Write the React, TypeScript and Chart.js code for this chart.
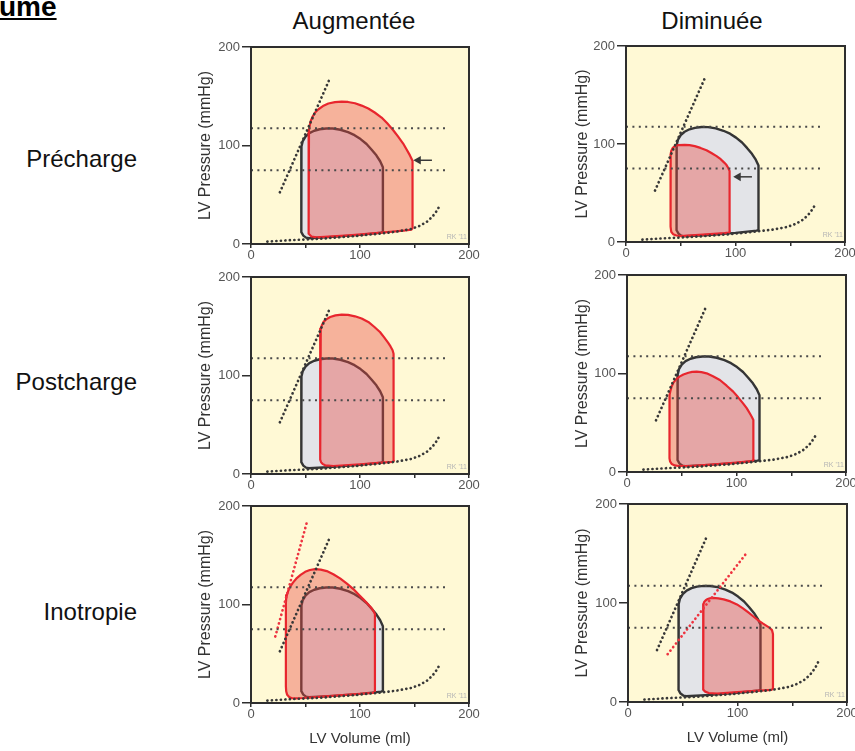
import React, { useEffect, useRef } from 'react';
import { Chart, registerables } from 'chart.js';

Chart.register(...registerables);

const FONT = "'Liberation Sans', Arial, Helvetica, sans-serif";
Chart.defaults.font.family = FONT;

// ---------- text ----------
const COLUMN_LABELS = ['Augmentée', 'Diminuée'];
const ROW_LABELS = ['Précharge', 'Postcharge', 'Inotropie'];
const CORNER_TITLE = 'ume';
const X_TITLE = 'LV Volume (ml)';
const Y_TITLE = 'LV Pressure (mmHg)';
const SIGNATURE = "RK '11";

// ---------- tick labels ----------
const VOLUME_TICK_LABELS = [0, 100, 200];
const PRESSURE_TICK_LABELS = [0, 100, 200];

// ---------- common curves (LV volume ml, LV pressure mmHg) ----------
const CONTROL_V = [53, 75, 100, 119.5, 121, 121, 118.5, 115, 110.5, 106, 100.5, 95, 89, 82, 75, 69, 63, 58, 53.5, 50, 47.5, 46.3, 46, 46, 46.5, 48, 50.5, 53];
const CONTROL_P = [5.8, 7.2, 9.3, 11.6, 12.5, 78, 84, 90, 96, 101.5, 106.5, 110.5, 113.5, 116, 117.2, 117.3, 116.5, 115, 112.5, 109, 104.5, 99, 92, 18, 12, 8.5, 6.5, 5.8];

const EDPVR_V = [15, 35, 65, 95, 120, 135, 147, 155, 162, 167, 171, 173.5];
const EDPVR_P = [2.5, 3.8, 5.5, 8, 10.8, 12.8, 15.3, 18.5, 23, 28.5, 34.5, 40];

const ESPVR_V = [26.5, 72.3];
const ESPVR_P = [52.5, 168];

const REF_LINE_V = [0, 180];
const REF_PRESSURES = [117.5, 75];

// ---------- altered loops ----------
const PRELOAD_UP_V = [60, 90, 120, 140, 147, 148.2, 148.2, 145.7, 142.5, 139.6, 135, 130.5, 125, 119.8, 113.5, 107.6, 101.5, 95.4, 89, 83.2, 77, 71, 66, 61.9, 58.8, 56.7, 55, 54, 53.2, 52.7, 52.7, 53.2, 55.5, 60];
const PRELOAD_UP_P = [6.8, 8.8, 11.5, 13.5, 14.5, 16, 84.5, 90.2, 96.5, 102, 109, 115.5, 122.5, 128.4, 133.5, 137.5, 140.5, 142.9, 144.2, 144.6, 144, 142.6, 140, 136.8, 133.5, 129.7, 125.5, 121, 116, 110, 16, 10.5, 7.6, 6.8];

const PRELOAD_DOWN_V = [50, 70, 90, 94, 94.9, 94.9, 94.3, 93.4, 91.8, 89.7, 86.5, 82.7, 78, 73.5, 68, 62.8, 58, 53.6, 48.1, 45.5, 43.8, 42.3, 41.3, 40.8, 40.7, 40.7, 41.3, 43, 46, 50];
const PRELOAD_DOWN_P = [6, 7.5, 9, 9.6, 11, 69.3, 72.5, 75.5, 78.5, 81, 84.5, 87.6, 90.8, 93.7, 96, 97.8, 98.8, 99.2, 98.8, 98.2, 97.1, 95.3, 93, 89.5, 86.9, 15.6, 10.5, 8, 6.6, 6];

const AFTERLOAD_UP_V = [75.6, 100, 120, 130, 131.1, 131.1, 130.5, 129.9, 128, 125.9, 122, 118.3, 113, 107.6, 101.5, 95.4, 89, 83.2, 77.5, 72.6, 69, 66.5, 65, 64, 63.5, 63.4, 63.4, 63.6, 64.3, 66, 68, 75.6];
const AFTERLOAD_UP_P = [8.1, 9.8, 11.5, 12.3, 13.5, 117.2, 122, 125.7, 129.5, 133.1, 139, 144.2, 149.5, 154.4, 157.8, 160.1, 161.5, 161.8, 161, 159.4, 157, 154.4, 151, 147.6, 143, 139.2, 20.9, 14.5, 12, 10, 8.8, 8.1];

const AFTERLOAD_DOWN_V = [57.6, 80, 100, 114, 115.7, 115.7, 115.1, 113.8, 112.1, 109.3, 106, 101.5, 97, 91, 84.8, 78.5, 72.7, 68, 63.6, 59.5, 56.1, 51.5, 47.9, 44.8, 42.4, 40.7, 39.7, 38.9, 38.8, 38.8, 39.3, 40.9, 43.5, 47, 57.6];
const AFTERLOAD_DOWN_P = [6.1, 7.8, 9.6, 11, 12.5, 49.4, 52.8, 56.3, 59.6, 64.8, 69.7, 75.8, 81.6, 87.6, 93.4, 97.2, 100.2, 101.4, 101.9, 101.6, 100.8, 99, 96.8, 94, 90.7, 86.5, 82.6, 78.5, 76.5, 13.9, 10.8, 8.1, 6.7, 6.1, 6.1];

const INOTROPY_UP_V = [48.2, 75, 100, 112, 113.7, 113.7, 112.4, 110.7, 107, 103.1, 98.5, 93.9, 88, 81.7, 75.5, 69.5, 64, 58.8, 54, 49.7, 45.5, 41.5, 38.5, 36, 34.2, 32.9, 32.2, 32, 32, 32.3, 33.2, 35, 37.5, 41, 48.2];
const INOTROPY_UP_P = [5.1, 7.3, 9.4, 10.3, 11.8, 90.4, 93.2, 96.1, 100.8, 105.2, 110.5, 115.7, 121.2, 126.5, 130.7, 133.9, 135.4, 135.9, 135, 133.2, 130, 126.2, 122.2, 118.1, 114, 109.6, 105, 101.2, 16.9, 11.8, 8.3, 6, 4.8, 4.6, 5.1];

const INOTROPY_DOWN_V = [81.3, 100, 120, 131, 132.4, 132.4, 131.5, 129.5, 126.9, 123, 119.3, 114.8, 110.2, 105, 99.5, 93.5, 87.4, 82.5, 77.6, 74.8, 72.8, 71, 69.7, 68.9, 68.5, 68.5, 69, 70.5, 73.7, 81.3];
const INOTROPY_DOWN_P = [8.4, 10, 11.5, 12.3, 13.5, 68.6, 72.6, 74.8, 76.7, 79.4, 82.1, 86.1, 90.2, 94.6, 98.6, 101.6, 103.7, 104.7, 105.1, 104.8, 104, 102.8, 101.3, 98.8, 95.6, 15.2, 12.5, 10.5, 9.1, 8.4];

// altered ESPVR (contractility)
const INOTROPY_UP_ESPVR_V = [22.3, 51.2];
const INOTROPY_UP_ESPVR_P = [67.5, 183.2];
const INOTROPY_DOWN_ESPVR_V = [36.2, 108.7];
const INOTROPY_DOWN_ESPVR_P = [48.3, 151];

// arrows (tail, head)
const PRELOAD_UP_ARROW_V = [166, 153.5];
const PRELOAD_UP_ARROW_P = [85, 85];
const PRELOAD_DOWN_ARROW_V = [115, 102.5];
const PRELOAD_DOWN_ARROW_P = [66.5, 66.5];

// ---------- styles ----------
const PLOT_BG = '#FFF9D5';
const FRAME_COLOR = '#2E2E2E';
const CONTROL_FILL = '#E3E4E8';
const CONTROL_LINE = '#353535';
const RED_LINE = '#E8262E';
const RED_FILL = 'rgba(232, 72, 68, 0.4)';
const DOT_DARK = '#383838';
const DOT_REF = '#4A4A4A';
const DOT_RED = '#EE3340';
const TICK_COLOR = '#555555';
const TITLE_COLOR = '#333333';

// ---------- layout ----------
const Y_AXIS_W = 66;
const PAD_TOP = 10;
const PAD_RIGHT = 16;
const PLOT_RECTS = [
  { l: 251, t: 47, r: 469, b: 244 },
  { l: 626, t: 46, r: 845, b: 242 },
  { l: 251, t: 277, r: 469, b: 474 },
  { l: 627, t: 275, r: 846, b: 472 },
  { l: 251, t: 506, r: 469, b: 703 },
  { l: 628, t: 504, r: 847, b: 702 },
];
const Y_TITLE_CENTER_X = [206, 583];
const Y_TITLE_SIZE = 16;

const PANELS = [
  { loopV: PRELOAD_UP_V, loopP: PRELOAD_UP_P, arrowV: PRELOAD_UP_ARROW_V, arrowP: PRELOAD_UP_ARROW_P },
  { loopV: PRELOAD_DOWN_V, loopP: PRELOAD_DOWN_P, arrowV: PRELOAD_DOWN_ARROW_V, arrowP: PRELOAD_DOWN_ARROW_P },
  { loopV: AFTERLOAD_UP_V, loopP: AFTERLOAD_UP_P },
  { loopV: AFTERLOAD_DOWN_V, loopP: AFTERLOAD_DOWN_P },
  { loopV: INOTROPY_UP_V, loopP: INOTROPY_UP_P, espvrV: INOTROPY_UP_ESPVR_V, espvrP: INOTROPY_UP_ESPVR_P },
  { loopV: INOTROPY_DOWN_V, loopP: INOTROPY_DOWN_P, espvrV: INOTROPY_DOWN_ESPVR_V, espvrP: INOTROPY_DOWN_ESPVR_P },
];

const pts = (v: number[], p: number[]) => v.map((x, i) => ({ x, y: p[i] }));

const plotFrame = {
  id: 'plotFrame',
  beforeDraw(chart: any) {
    const { ctx, chartArea: a } = chart;
    ctx.save();
    ctx.fillStyle = PLOT_BG;
    ctx.fillRect(a.left, a.top, a.right - a.left, a.bottom - a.top);
    ctx.restore();
  },
  afterDatasetsDraw(chart: any) {
    const { ctx, chartArea: a } = chart;
    ctx.save();
    ctx.strokeStyle = FRAME_COLOR;
    ctx.lineWidth = 2;
    ctx.strokeRect(a.left, a.top, a.right - a.left, a.bottom - a.top);
    ctx.restore();
  },
};

function loopDataset(v: number[], p: number[], fill: string, line: string, width: number, order: number) {
  return {
    data: pts(v, p),
    fill: 'shape',
    backgroundColor: fill,
    borderColor: line,
    borderWidth: width,
    borderJoinStyle: 'round',
    pointRadius: 0,
    tension: 0,
    order,
  };
}

function dottedDataset(v: number[], p: number[], color: string, width: number, dash: number[], cap: string) {
  return {
    data: pts(v, p),
    fill: false,
    borderColor: color,
    borderWidth: width,
    borderDash: dash,
    borderCapStyle: cap,
    pointRadius: 0,
    tension: 0,
    order: 0,
  };
}

function PvChart({ index }: { index: number }) {
  const ref = useRef<HTMLCanvasElement>(null);
  const rect = PLOT_RECTS[index];
  const panel: any = PANELS[index];
  const col = index % 2;
  const bottomRow = index >= 4;
  const xAxisH = bottomRow ? 45 : 22;
  const canvasLeft = rect.l - Y_AXIS_W;
  const canvasTop = rect.t - PAD_TOP;
  const w = rect.r - rect.l + Y_AXIS_W + PAD_RIGHT;
  const h = rect.b - rect.t + PAD_TOP + xAxisH;
  const titlePad = Y_TITLE_CENTER_X[col] - canvasLeft - (Y_TITLE_SIZE * 1.2) / 2;

  useEffect(() => {
    const datasets: any[] = [];
    REF_PRESSURES.forEach((pr) => {
      datasets.push(dottedDataset(REF_LINE_V, REF_LINE_V.map(() => pr), DOT_REF, 2, [2, 4.4], 'butt'));
    });
    datasets.push(dottedDataset(EDPVR_V, EDPVR_P, DOT_DARK, 2.7, [0.1, 4.4], 'round'));
    datasets.push(dottedDataset(ESPVR_V, ESPVR_P, DOT_DARK, 2.7, [0.1, 4.4], 'round'));
    if (panel.espvrV) {
      datasets.push(dottedDataset(panel.espvrV, panel.espvrP, DOT_RED, 2.7, [0.1, 4.4], 'round'));
    }
    if (panel.arrowV) {
      datasets.push({
        data: pts(panel.arrowV, panel.arrowP),
        fill: false,
        borderColor: DOT_DARK,
        borderWidth: 1.5,
        pointRadius: [0, 5],
        pointStyle: 'triangle',
        pointRotation: -90,
        pointBackgroundColor: DOT_DARK,
        pointBorderColor: DOT_DARK,
        pointBorderWidth: 0,
        order: 0,
      });
    }
    datasets.push(loopDataset(panel.loopV, panel.loopP, RED_FILL, RED_LINE, 2.2, 1));
    datasets.push(loopDataset(CONTROL_V, CONTROL_P, CONTROL_FILL, CONTROL_LINE, 2.4, 2));

    const chart = new Chart(ref.current as HTMLCanvasElement, {
      type: 'line',
      data: { datasets },
      options: {
        responsive: false,
        animation: false,
        devicePixelRatio: 1,
        layout: { padding: { top: PAD_TOP, right: PAD_RIGHT, bottom: 0, left: 0 } },
        plugins: { legend: { display: false }, tooltip: { enabled: false } },
        events: [],
        scales: {
          x: {
            type: 'linear',
            min: 0,
            max: 200,
            afterFit: (s: any) => { s.height = xAxisH; },
            ticks: {
              stepSize: 50,
              autoSkip: false,
              maxRotation: 0,
              padding: 0,
              color: TICK_COLOR,
              font: { family: FONT, size: 13 },
              callback: (v: any) => (VOLUME_TICK_LABELS.includes(Number(v)) ? String(v) : ''),
            },
            grid: { drawOnChartArea: false, drawTicks: true, tickLength: 4, color: FRAME_COLOR, lineWidth: 1.5 },
            border: { display: false },
            title: {
              display: bottomRow,
              text: X_TITLE,
              color: TITLE_COLOR,
              font: { family: FONT, size: 15 },
              padding: { top: 0, bottom: 0 },
            },
          },
          y: {
            type: 'linear',
            min: 0,
            max: 200,
            afterFit: (s: any) => { s.width = Y_AXIS_W; },
            ticks: {
              stepSize: 100,
              padding: 2,
              color: TICK_COLOR,
              font: { family: FONT, size: 13 },
              callback: (v: any) => (PRESSURE_TICK_LABELS.includes(Number(v)) ? String(v) : ''),
            },
            grid: { drawOnChartArea: false, drawTicks: true, tickLength: 9, color: FRAME_COLOR, lineWidth: 1.5 },
            border: { display: false },
            title: {
              display: true,
              text: Y_TITLE,
              color: TITLE_COLOR,
              font: { family: FONT, size: Y_TITLE_SIZE },
              padding: { top: titlePad, bottom: 0 },
            },
          },
        },
      } as any,
      plugins: [plotFrame],
    });
    return () => chart.destroy();
  }, []);

  return (
    <>
      <canvas
        ref={ref}
        width={w}
        height={h}
        style={{ position: 'absolute', left: canvasLeft, top: canvasTop, width: w, height: h }}
      />
      <span
        style={{
          position: 'absolute',
          left: rect.r - 40,
          width: 38,
          textAlign: 'right',
          top: rect.b - 11,
          fontSize: 7,
          lineHeight: '8px',
          color: '#B5B5B5',
          fontFamily: FONT,
        }}
      >
        {SIGNATURE}
      </span>
    </>
  );
}

const COLUMN_CENTERS = [354, 712];
const ROW_BASELINES = [166.7, 390, 620];

export default function App() {
  const labelFont = 24;
  return (
    <div
      style={{
        position: 'absolute',
        left: 0,
        top: 0,
        width: 855,
        height: 751,
        overflow: 'hidden',
        background: '#FFFFFF',
        fontFamily: FONT,
      }}
    >
      <div
        style={{
          position: 'absolute',
          left: -1,
          top: 16.5 - 0.905 * 28,
          fontSize: 28,
          fontWeight: 'bold',
          textDecoration: 'underline',
          lineHeight: 'normal',
          color: '#000',
          whiteSpace: 'nowrap',
        }}
      >
        {CORNER_TITLE}
      </div>
      {COLUMN_LABELS.map((t, i) => (
        <div
          key={t}
          style={{
            position: 'absolute',
            left: COLUMN_CENTERS[i] - 100,
            width: 200,
            textAlign: 'center',
            top: 28.3 - 0.905 * labelFont,
            fontSize: labelFont,
            lineHeight: 'normal',
            color: '#111',
            whiteSpace: 'nowrap',
          }}
        >
          {t}
        </div>
      ))}
      {ROW_LABELS.map((t, i) => (
        <div
          key={t}
          style={{
            position: 'absolute',
            left: 0,
            width: 137,
            textAlign: 'right',
            top: ROW_BASELINES[i] - 0.905 * labelFont,
            fontSize: labelFont,
            lineHeight: 'normal',
            color: '#111',
            whiteSpace: 'nowrap',
          }}
        >
          {t}
        </div>
      ))}
      {PANELS.map((_, i) => (
        <PvChart key={i} index={i} />
      ))}
    </div>
  );
}
